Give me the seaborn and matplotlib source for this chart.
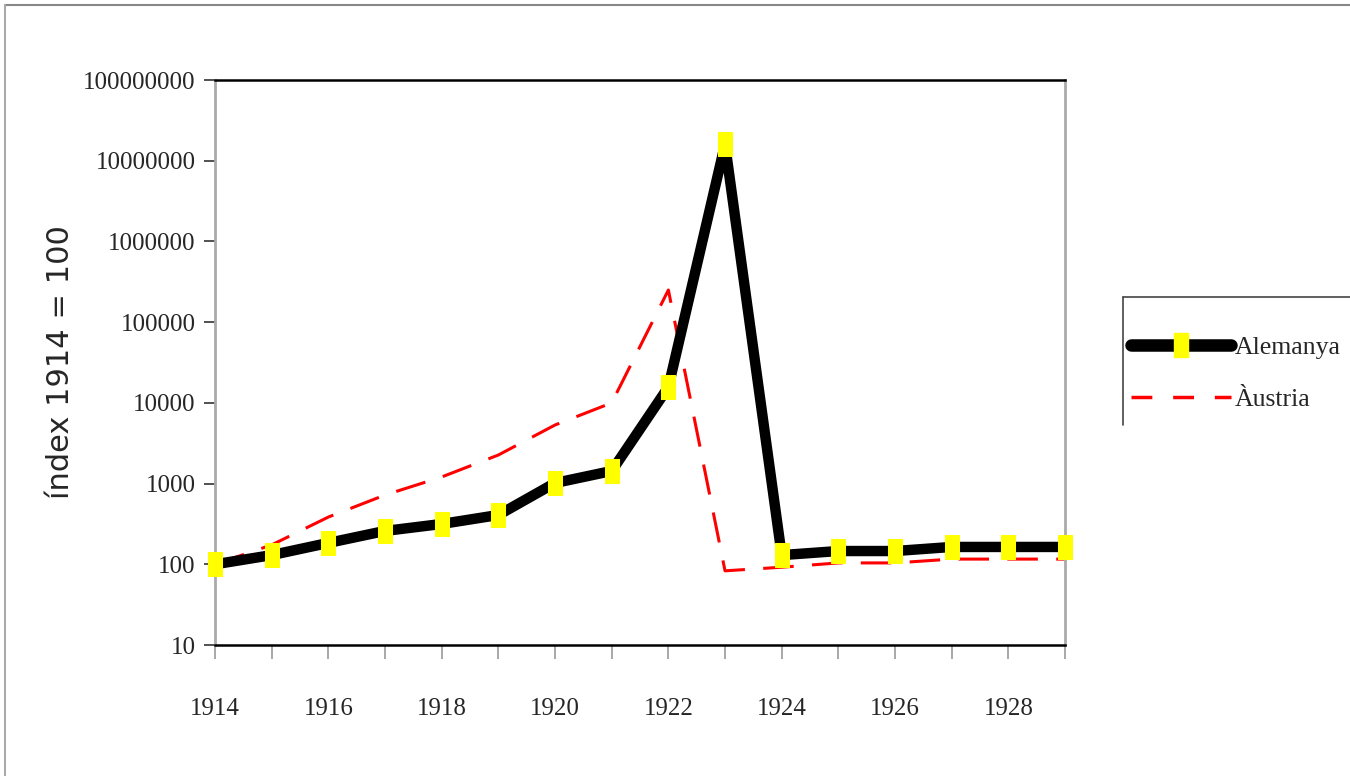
import seaborn as sns
import matplotlib.pyplot as plt
import pandas as pd
from matplotlib.lines import Line2D

# data (index 1914 = 100)
years = list(range(1914, 1930))
alemanya = [100, 130, 184, 259, 316, 408, 1017, 1432, 15700, 16000000,
            130, 146, 146, 164, 164, 164]
austria = [100, 174, 385, 722, 1208, 2260, 5320, 10000, 250000, 83,
           92, 104, 104, 116, 116, 116]
ytick_vals = [10, 100, 1000, 10000, 100000, 1000000, 10000000, 100000000]

df = pd.DataFrame({'year': years, 'Alemanya': alemanya, 'Àustria': austria})

sns.set_style("white")
plt.rcParams['font.family'] = ['Liberation Serif', 'DejaVu Serif']

fig = plt.figure(figsize=(13.5, 7.76), dpi=100)
ax = fig.add_axes([0.1593, 0.1688, 0.6296, 0.7281])

# rectangular (tall) yellow marker like the original
rect = [(-0.3, -0.5), (0.3, -0.5), (0.3, 0.5), (-0.3, 0.5), (-0.3, -0.5)]

sns.lineplot(data=df, x='year', y='Àustria', ax=ax, color='#ff0000',
             linewidth=2.2, dashes=False, zorder=2)
ax.lines[-1].set_dashes([10, 6])
sns.lineplot(data=df, x='year', y='Alemanya', ax=ax, color='black',
             linewidth=7.5, marker=rect, markersize=17,
             markerfacecolor='#ffff00', markeredgecolor='#ffff00',
             zorder=3, solid_capstyle='butt')
for ln in ax.lines:
    ln.set_clip_on(False)

ax.set_yscale('log')
ax.set_ylim(10, 1e8)
ax.set_xlim(1914, 1929)
ax.set_yticks(ytick_vals)
ax.set_yticklabels([str(v) for v in ytick_vals], fontsize=18)
ax.minorticks_off()
ax.set_xticks(years, minor=False)
ax.set_xticklabels([str(y) if y % 2 == 0 else '' for y in years], fontsize=18)
ax.tick_params(axis='x', direction='out', length=10, width=1.2,
               color='#999999', pad=28, bottom=True)
ax.tick_params(axis='y', direction='out', length=8, width=1.2,
               color='#333333', pad=6, left=True)

ax.set_xlabel('')
ax.set_ylabel('índex 1914 = 100', fontsize=22, family='DejaVu Sans',
              labelpad=6)

for side in ['left', 'right']:
    ax.spines[side].set_color('#aaaaaa')
    ax.spines[side].set_linewidth(2)
for side in ['top', 'bottom']:
    ax.spines[side].set_color('black')
    ax.spines[side].set_linewidth(1.8)

# legend: only left and top border visible, cut at the figure edge
handles = [Line2D([], [], color='black', linewidth=9, marker=rect,
                  markersize=17, markerfacecolor='#ffff00',
                  markeredgecolor='#ffff00', solid_capstyle='round'),
           Line2D([], [], color='#ff0000', linewidth=2.5, dashes=[6, 6])]
fig.legend(handles, ['Alemanya', 'Àustria'], loc='upper left',
           bbox_to_anchor=(0.834, 0.574), frameon=False, fontsize=18.5,
           handlelength=3.9, handletextpad=0.15, labelspacing=1.15,
           borderaxespad=0.0, borderpad=0.2)
fig.add_artist(Line2D([0.832, 1.0], [0.617, 0.617], color='#444444',
                      linewidth=1.2, transform=fig.transFigure))
fig.add_artist(Line2D([0.832, 0.832], [0.617, 0.452], color='#444444',
                      linewidth=1.2, transform=fig.transFigure))

# outer border (top and left) of the original chart area
fig.add_artist(Line2D([0.004, 1.0], [0.994, 0.994], color='#888888',
                      linewidth=1.5, transform=fig.transFigure))
fig.add_artist(Line2D([0.004, 0.004], [0.0, 0.994], color='#aaaaaa',
                      linewidth=1.5, transform=fig.transFigure))

fig.savefig('out.png', dpi=100)
